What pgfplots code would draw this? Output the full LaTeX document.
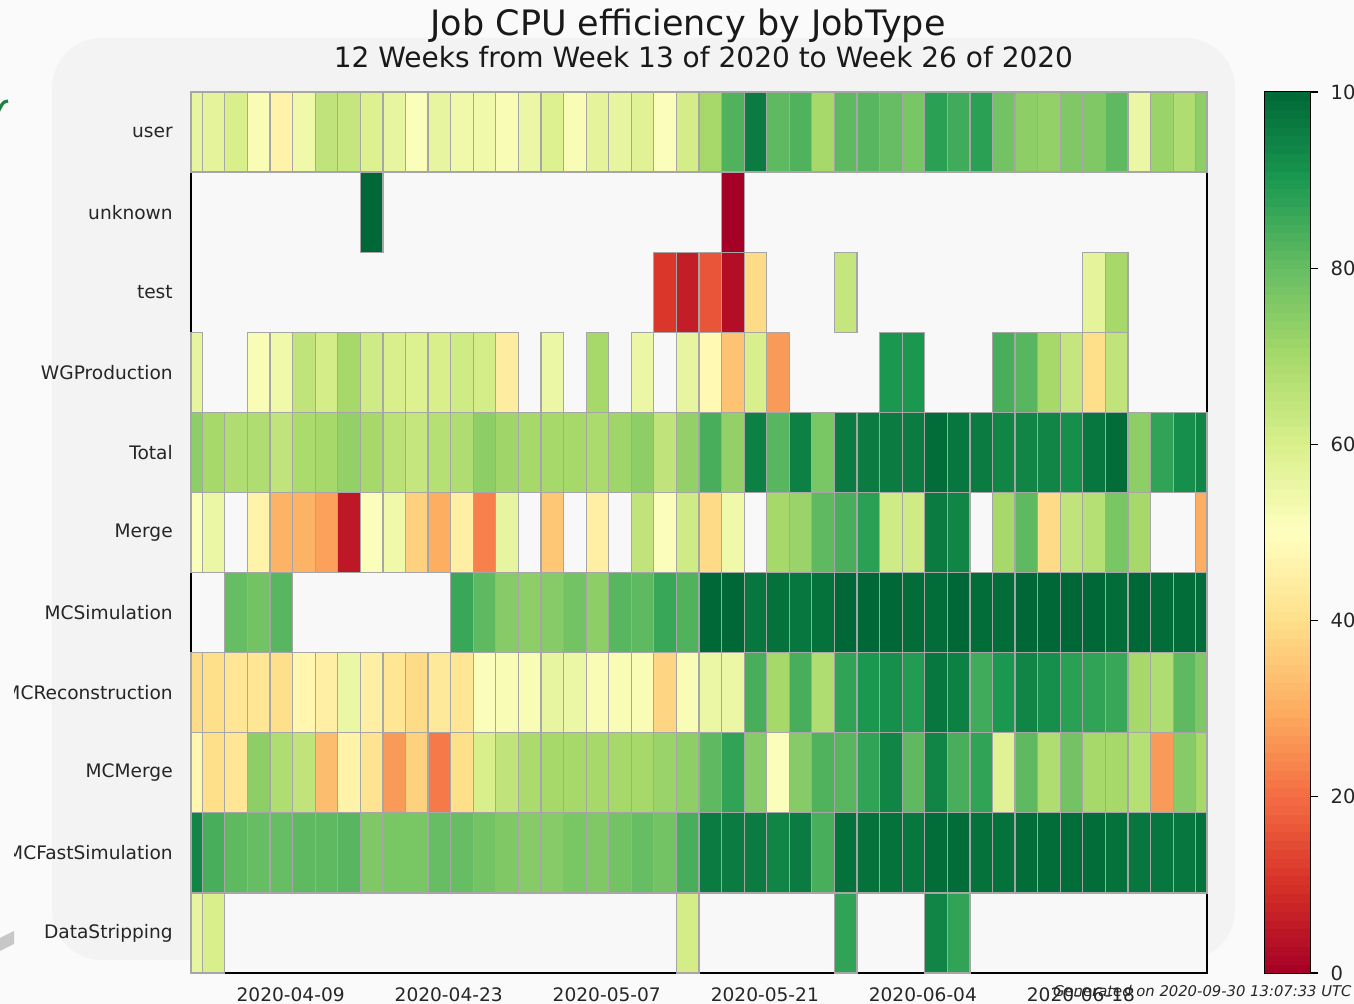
\documentclass[border=0pt]{standalone}
\usepackage{pgfplots}
\pgfplotsset{compat=1.18}
\usepackage{pgfplotstable}
\usepackage{fontspec}
\setmainfont{DejaVu Sans}

\definecolor{bgA}{HTML}{FAFAFA}
\definecolor{bgB}{HTML}{F3F3F3}
\definecolor{axbg}{HTML}{F8F8F8}
\definecolor{cellgray}{HTML}{A6A6A6}
\definecolor{logogreen}{RGB}{30,130,60}

\pgfplotsset{colormap={rdylgn}{rgb255=(165,0,38) rgb255=(215,48,39) rgb255=(244,109,67) rgb255=(253,174,97) rgb255=(254,224,139) rgb255=(255,255,191) rgb255=(217,239,139) rgb255=(166,217,106) rgb255=(102,189,99) rgb255=(26,152,80) rgb255=(0,104,55)}}

\pgfdeclareplotmark{cellfull}{%
  \pgfpathrectangle{\pgfpoint{-5.64444pt}{-20.02273pt}}{\pgfpoint{11.28889pt}{40.04545pt}}%
  \pgfusepathqfillstroke}
\pgfdeclareplotmark{cellhalf}{%
  \pgfpathrectangle{\pgfpoint{-2.82222pt}{-20.02273pt}}{\pgfpoint{5.64444pt}{40.04545pt}}%
  \pgfusepathqfillstroke}
\pgfdeclareplotmark{cbband}{%
  \pgfpathrectangle{\pgfpoint{-11.25pt}{-2.4pt}}{\pgfpoint{22.5pt}{4.8pt}}%
  \pgfusepathqfill}

\pgfplotstableread{
x w user unknown test WG Total Merge MCSim MCReco MCMerge MCFast DataStrip
0.5 1 56 nan nan 56 74 51 nan 39 47 94 56
2 2 57 nan nan nan 70 55 nan 40 40 84 60
4 2 60 nan nan nan 68 nan 80 42 42 81 nan
6 2 52 nan nan 52 68 46 78 42 74 80 nan
8 2 46 nan nan 54 65 31 82 40 68 80 nan
10 2 54 nan nan 65 69 31 nan 47 65 81 nan
12 2 65 nan nan 61 70 28 nan 45 33 81 nan
14 2 64 nan nan 70 73 5 nan 55 46 82 nan
16 2 59 100 nan 62 70 51 nan 45 41 76 nan
18 2 56 nan nan 60 66 54 nan 42 27 77 nan
20 2 51 nan nan 59 64 37 nan 39 37 77 nan
22 2 56 nan nan 60 67 30 nan 43 22 80 nan
24 2 54 nan nan 62 68 45 86 42 40 80 nan
26 2 54 nan nan 61 74 23 81 51 60 78 nan
28 2 52 nan nan 44 71 56 75 52 65 76 nan
30 2 55 nan nan nan 70 nan 74 52 69 75 nan
32 2 59 nan nan 55 70 35 75 56 70 75 nan
34 2 52 nan nan nan 70 nan 78 55 70 77 nan
36 2 57 nan nan 70 69 45 74 52 70 76 nan
38 2 56 nan nan nan 71 nan 82 52 70 78 nan
40 2 58 nan nan 55 74 65 81 52 70 80 nan
42 2 51 nan 11 nan 65 51 86 38 72 78 nan
44 2 61 nan 6 56 73 62 83 52 74 84 61
46 2 70 nan 16 48 84 39 100 55 81 96 nan
48 2 83 0 3 34 73 54 100 55 87 96 nan
50 2 96 nan 39 60 95 nan 97 84 75 96 nan
52 2 81 nan nan 27 82 70 98 70 51 94 nan
54 2 83 nan nan nan 95 72 97 84 75 96 nan
56 2 70 nan nan nan 77 81 98 68 83 84 nan
58 2 81 nan 64 nan 96 84 100 87 82 98 87
60 2 82 nan nan nan 96 88 100 90 87 98 nan
62 2 80 nan nan 90 96 62 100 92 94 98 nan
64 2 77 nan nan 90 96 62 99 89 81 97 nan
66 2 88 nan nan nan 99 96 99 97 94 99 94
68 2 85 nan nan nan 97 94 100 95 84 99 87
70 2 88 nan nan nan 96 nan 99 85 87 98 nan
72 2 78 nan nan 84 94 70 99 90 58 98 nan
74 2 74 nan nan 82 94 81 100 94 81 99 nan
76 2 73 nan nan 70 94 39 100 92 68 99 nan
78 2 76 nan nan 64 92 65 100 88 78 99 nan
80 2 76 nan 57 40 97 67 100 87 70 99 nan
82 2 81 nan 70 65 99 77 99 86 70 98 nan
84 2 55 nan nan nan 74 70 100 70 67 97 nan
86 2 72 nan nan nan 87 nan 99 68 27 97 nan
88 2 68 nan nan nan 92 nan 99 81 75 97 nan
89.5 1 74 nan nan nan 94 30 99 76 70 98 nan
}\datatable

% colour-bar levels (one band per unit of the 0-100 scale)
\pgfplotstableread[row sep=\\]{
lev\\
0.5\\1.5\\2.5\\3.5\\4.5\\5.5\\6.5\\7.5\\8.5\\9.5\\
10.5\\11.5\\12.5\\13.5\\14.5\\15.5\\16.5\\17.5\\18.5\\19.5\\
20.5\\21.5\\22.5\\23.5\\24.5\\25.5\\26.5\\27.5\\28.5\\29.5\\
30.5\\31.5\\32.5\\33.5\\34.5\\35.5\\36.5\\37.5\\38.5\\39.5\\
40.5\\41.5\\42.5\\43.5\\44.5\\45.5\\46.5\\47.5\\48.5\\49.5\\
50.5\\51.5\\52.5\\53.5\\54.5\\55.5\\56.5\\57.5\\58.5\\59.5\\
60.5\\61.5\\62.5\\63.5\\64.5\\65.5\\66.5\\67.5\\68.5\\69.5\\
70.5\\71.5\\72.5\\73.5\\74.5\\75.5\\76.5\\77.5\\78.5\\79.5\\
80.5\\81.5\\82.5\\83.5\\84.5\\85.5\\86.5\\87.5\\88.5\\89.5\\
90.5\\91.5\\92.5\\93.5\\94.5\\95.5\\96.5\\97.5\\98.5\\99.5\\
}\cbtable

\newcommand{\cellrow}[2]{%
  \addplot[cellbase, mark=cellfull, skip coords between index={0}{1}, skip coords between index={45}{46}]
    table[x=x, y expr=\thisrow{#1}*0+#2, meta=#1] {\datatable};
  \addplot[cellbase, mark=cellhalf, skip coords between index={1}{45}]
    table[x=x, y expr=\thisrow{#1}*0+#2, meta=#1] {\datatable};
}

\begin{document}
\begin{tikzpicture}
% background and faint watermark
\begin{scope}[shift={(0,502pt)}, x=0.5pt, y=-0.5pt]
  \fill[bgA] (0,0) rectangle (1354,1004);
  \fill[bgB, rounded corners=25pt] (52,38) rectangle (1235,960);
\end{scope}

\begin{axis}[
  at={(95.5pt,15.5pt)}, anchor=south west,
  scale only axis, width=508pt, height=440.5pt,
  xmin=0, xmax=90, ymin=-0.5, ymax=10.5,
  axis on top,
  axis line style={black, line width=0.8pt},
  axis background/.style={fill=axbg},
  xtick={8.83,22.83,36.83,50.83,64.83,78.83},
  xticklabels={2020-04-09,2020-04-23,2020-05-07,2020-05-21,2020-06-04,2020-06-18},
  ytick={0,1,2,3,4,5,6,7,8,9,10},
  yticklabels={DataStripping,MCFastSimulation,MCMerge,MCReconstruction,MCSimulation,Merge,Total,WGProduction,test,unknown,user},
  major tick length=0pt,
  tick label style={font=\fontsize{9.3}{11}\selectfont, text=black!85},
  xticklabel style={inner sep=0pt, yshift=-7pt},
  yticklabel style={xshift=-5.6pt},
  point meta min=0, point meta max=100,
  cellbase/.style={scatter, only marks, point meta=explicit,
    scatter/use mapped color={draw=cellgray, fill=mapped color},
    mark options={line width=0.6pt}},
]
\cellrow{user}{10}
\cellrow{unknown}{9}
\cellrow{test}{8}
\cellrow{WG}{7}
\cellrow{Total}{6}
\cellrow{Merge}{5}
\cellrow{MCSim}{4}
\cellrow{MCReco}{3}
\cellrow{MCMerge}{2}
\cellrow{MCFast}{1}
\cellrow{DataStrip}{0}
\end{axis}

% colour bar
\begin{axis}[
  at={(632.5pt,15.5pt)}, anchor=south west,
  scale only axis, width=22.5pt, height=440.5pt,
  xmin=0, xmax=1, ymin=0, ymax=100,
  axis on top,
  xtick=\empty,
  ytick={0,20,40,60,80,100},
  ytick pos=right, yticklabel pos=right,
  tick align=outside, major tick length=4pt,
  axis line style={black, line width=0.6pt},
  ytick style={black, line width=0.6pt},
  /pgf/number format/assume math mode=true,
  yticklabel style={font=\fontsize{9.8}{11}\selectfont, text=black!85, xshift=2.8pt},
  point meta min=0, point meta max=100,
]
\addplot[scatter, only marks, mark=cbband, point meta=explicit,
  scatter/use mapped color={draw=none, fill=mapped color}]
  table[x expr=0.5, y=lev, meta=lev] {\cbtable};
\end{axis}

\begin{scope}[shift={(0,502pt)}, x=0.5pt, y=-0.5pt]
  % figure edge that clips the long row names, and watermark remnants
  \fill[bgA] (-20,0) rectangle (14,1004);
  \fill[black!22] (0,938) -- (14,931) -- (14,944) -- (0,951) -- cycle;
  \draw[logogreen, line width=1.6pt] (-2,112) to[out=60,in=180] (8,101);
  \node[anchor=base, inner sep=0pt, font=\fontsize{17.5}{20}\selectfont, text=black!90] at (688,36) {Job CPU efficiency by JobType};
  \node[anchor=base, inner sep=0pt, font=\fontsize{14}{17}\selectfont, text=black!90] at (703.5,68) {12 Weeks from Week 13 of 2020 to Week 26 of 2020};
  \node[anchor=base east, inner sep=0pt, font=\fontsize{7.4}{9}\selectfont\itshape, text=black!85] at (1352,997) {Generated on 2020-09-30 13:07:33 UTC};
\end{scope}

\pgfresetboundingbox
\path[use as bounding box] (0,0) rectangle (677pt,502pt);
\end{tikzpicture}
\end{document}
